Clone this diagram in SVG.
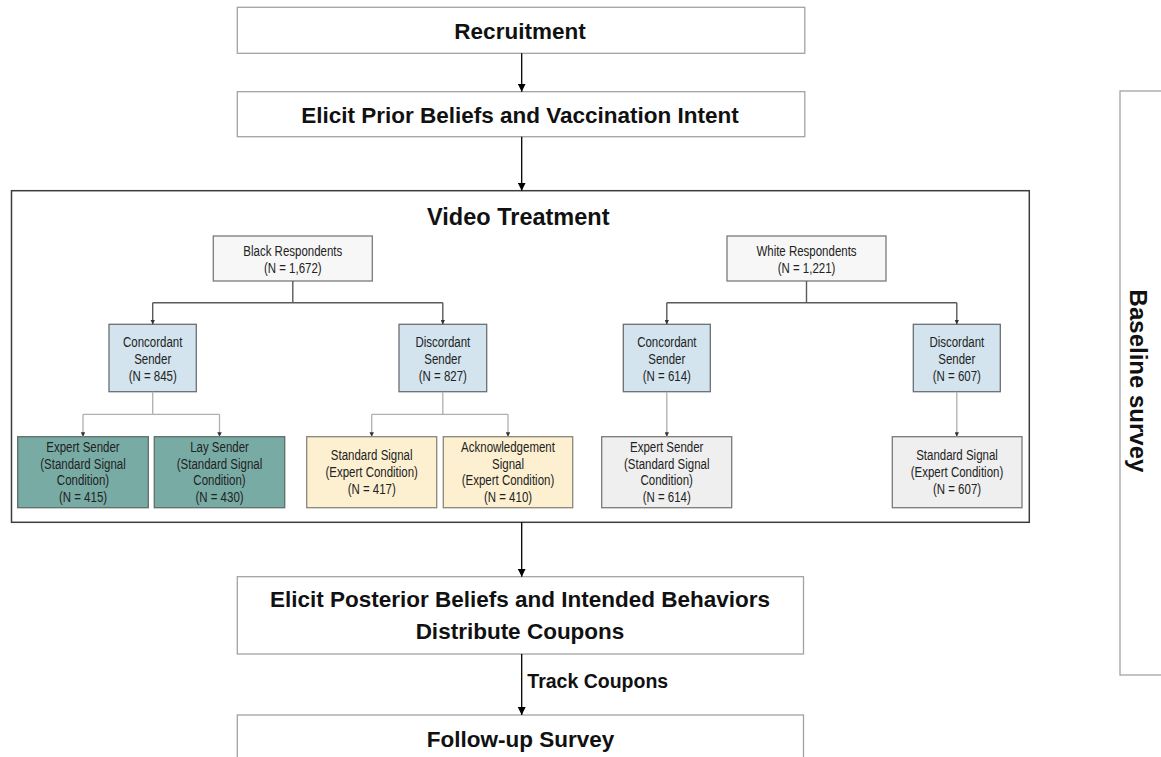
<svg xmlns="http://www.w3.org/2000/svg" width="1161" height="757" viewBox="0 0 1161 757">
<style>
.big{fill:#fff;stroke:#a3a3a3;stroke-width:1.3}
.vt{fill:#fff;stroke:#3d3d3d;stroke-width:1.5}
.lbl{font-family:"Liberation Sans",Arial,sans-serif;font-weight:bold;fill:#111;text-anchor:middle}
.nt{font-family:"Liberation Sans",Arial,sans-serif;font-size:14px;fill:#222;text-anchor:middle}
.resp{fill:#f7f7f7;stroke:#7a7a7a;stroke-width:1.3}
.blue{fill:#d3e4ee;stroke:#6a6f73;stroke-width:1.3}
.teal{fill:#79aba5;stroke:#5f6d6b;stroke-width:1.3}
.yel{fill:#fdf0d1;stroke:#8a8578;stroke-width:1.3}
.gry{fill:#efefef;stroke:#7a7a7a;stroke-width:1.3}
.main{fill:none;stroke:#000;stroke-width:1.3}
.dk{fill:none;stroke:#5a5a5a;stroke-width:1.4}
.lt{fill:none;stroke:#b0b0b0;stroke-width:1.3}
</style>
<defs>
<marker id="ah" viewBox="0 0 10 10" refX="10" refY="5" markerWidth="8" markerHeight="8" markerUnits="userSpaceOnUse" orient="auto"><path d="M0,0 L10,5 L0,10 z" fill="#000"/></marker>
<marker id="sh" viewBox="0 0 10 10" refX="10" refY="5" markerWidth="4.5" markerHeight="4.5" markerUnits="userSpaceOnUse" orient="auto"><path d="M0,0 L10,5 L0,10 z" fill="#333"/></marker>
</defs>
<rect width="1161" height="757" fill="#fff"/>

<g id="recruitment"><rect class="big" x="237.3" y="7.3" width="567.5" height="46"/><text class="lbl" x="520" y="39" font-size="22.5">Recruitment</text></g>
<g id="elicit-prior"><rect class="big" x="237.3" y="91.7" width="567.5" height="45"/><text class="lbl" x="520" y="123.3" font-size="22.5">Elicit Prior Beliefs and Vaccination Intent</text></g>

<g id="video-treatment"><rect class="vt" x="11.5" y="190.7" width="1017.8" height="331.6"/><text class="lbl" x="518.3" y="225" font-size="23.5">Video Treatment</text></g>

<g id="black-respondents"><rect class="resp" x="213.3" y="236" width="159" height="45"/><text class="nt" transform="translate(292.8 0) scale(0.82 1)"><tspan x="0" y="256">Black Respondents</tspan><tspan x="0" y="273">(N = 1,672)</tspan></text></g>
<g id="black-concordant"><rect class="blue" x="109" y="324.3" width="87.3" height="67.4"/><text class="nt" transform="translate(152.7 0) scale(0.82 1)"><tspan x="0" y="347">Concordant</tspan><tspan x="0" y="364">Sender</tspan><tspan x="0" y="381">(N = 845)</tspan></text></g>
<g id="black-discordant"><rect class="blue" x="399" y="324.3" width="87.7" height="67.4"/><text class="nt" transform="translate(442.8 0) scale(0.82 1)"><tspan x="0" y="347">Discordant</tspan><tspan x="0" y="364">Sender</tspan><tspan x="0" y="381">(N = 827)</tspan></text></g>
<g id="black-expert"><rect class="teal" x="17.7" y="436.7" width="130.6" height="71"/><text class="nt" transform="translate(83 0) scale(0.82 1)"><tspan x="0" y="452">Expert Sender</tspan><tspan x="0" y="468.7">(Standard Signal</tspan><tspan x="0" y="485.3">Condition)</tspan><tspan x="0" y="502">(N = 415)</tspan></text></g>
<g id="black-lay"><rect class="teal" x="154.3" y="436.7" width="130.4" height="71"/><text class="nt" transform="translate(219.5 0) scale(0.82 1)"><tspan x="0" y="452">Lay Sender</tspan><tspan x="0" y="468.7">(Standard Signal</tspan><tspan x="0" y="485.3">Condition)</tspan><tspan x="0" y="502">(N = 430)</tspan></text></g>
<g id="black-standard"><rect class="yel" x="306.7" y="436.7" width="130" height="71"/><text class="nt" transform="translate(371.7 0) scale(0.82 1)"><tspan x="0" y="460.5">Standard Signal</tspan><tspan x="0" y="477.2">(Expert Condition)</tspan><tspan x="0" y="494">(N = 417)</tspan></text></g>
<g id="black-acknowledgement"><rect class="yel" x="443.3" y="436.7" width="129.4" height="71"/><text class="nt" transform="translate(508 0) scale(0.82 1)"><tspan x="0" y="452">Acknowledgement</tspan><tspan x="0" y="468.7">Signal</tspan><tspan x="0" y="485.3">(Expert Condition)</tspan><tspan x="0" y="502">(N = 410)</tspan></text></g>

<g id="white-respondents"><rect class="resp" x="727" y="236" width="159" height="45"/><text class="nt" transform="translate(806.5 0) scale(0.82 1)"><tspan x="0" y="256">White Respondents</tspan><tspan x="0" y="273">(N = 1,221)</tspan></text></g>
<g id="white-concordant"><rect class="blue" x="623.3" y="324.3" width="87" height="67.4"/><text class="nt" transform="translate(666.8 0) scale(0.82 1)"><tspan x="0" y="347">Concordant</tspan><tspan x="0" y="364">Sender</tspan><tspan x="0" y="381">(N = 614)</tspan></text></g>
<g id="white-discordant"><rect class="blue" x="913.3" y="324.3" width="87" height="67.4"/><text class="nt" transform="translate(956.8 0) scale(0.82 1)"><tspan x="0" y="347">Discordant</tspan><tspan x="0" y="364">Sender</tspan><tspan x="0" y="381">(N = 607)</tspan></text></g>
<g id="white-expert"><rect class="gry" x="601.7" y="436.7" width="130" height="71"/><text class="nt" transform="translate(666.7 0) scale(0.82 1)"><tspan x="0" y="452">Expert Sender</tspan><tspan x="0" y="468.7">(Standard Signal</tspan><tspan x="0" y="485.3">Condition)</tspan><tspan x="0" y="502">(N = 614)</tspan></text></g>
<g id="white-standard"><rect class="gry" x="892.3" y="436.7" width="129.7" height="71"/><text class="nt" transform="translate(957 0) scale(0.82 1)"><tspan x="0" y="460.5">Standard Signal</tspan><tspan x="0" y="477.2">(Expert Condition)</tspan><tspan x="0" y="494">(N = 607)</tspan></text></g>

<g id="elicit-posterior"><rect class="big" x="237.3" y="576.7" width="566.2" height="77.3"/><text class="lbl" font-size="22.5"><tspan x="520" y="607.3">Elicit Posterior Beliefs and Intended Behaviors</tspan><tspan x="520" y="639.3">Distribute Coupons</tspan></text></g>
<g id="follow-up"><rect class="big" x="237.3" y="715" width="566.2" height="60"/><text class="lbl" x="520.5" y="746.7" font-size="22.5">Follow-up Survey</text></g>

<g id="baseline-survey"><rect class="big" x="1120" y="91" width="60" height="584"/><text class="lbl" font-size="24" transform="translate(1130 381) rotate(90)" x="0" y="0">Baseline survey</text></g>

<g id="connectors">
<path class="main" d="M521.7,53.3 V91.7" marker-end="url(#ah)"/>
<path class="main" d="M521.7,136.7 V190.7" marker-end="url(#ah)"/>
<path class="main" d="M521.7,522.3 V576.7" marker-end="url(#ah)"/>
<path class="main" d="M521.7,654 V715" marker-end="url(#ah)"/>
<text class="lbl" x="527.3" y="688.3" font-size="19.5" style="text-anchor:start">Track Coupons</text>

<path class="dk" d="M292.8,281 V302.7 M152.7,302.7 H442.8"/>
<path class="dk" d="M152.7,302.7 V324.3" marker-end="url(#sh)"/>
<path class="dk" d="M442.8,302.7 V324.3" marker-end="url(#sh)"/>
<path class="lt" d="M152.7,391.7 V414.3 M83,414.3 H219.5"/>
<path class="lt" d="M83,414.3 V436.7" marker-end="url(#sh)"/>
<path class="lt" d="M219.5,414.3 V436.7" marker-end="url(#sh)"/>
<path class="lt" d="M442.8,391.7 V414.3 M371.7,414.3 H508"/>
<path class="lt" d="M371.7,414.3 V436.7" marker-end="url(#sh)"/>
<path class="lt" d="M508,414.3 V436.7" marker-end="url(#sh)"/>

<path class="dk" d="M806.5,281 V302.7 M666.8,302.7 H956.8"/>
<path class="dk" d="M666.8,302.7 V324.3" marker-end="url(#sh)"/>
<path class="dk" d="M956.8,302.7 V324.3" marker-end="url(#sh)"/>
<path class="lt" d="M666.8,391.7 V436.7" marker-end="url(#sh)"/>
<path class="lt" d="M956.8,391.7 V436.7" marker-end="url(#sh)"/>
</g>
</svg>
